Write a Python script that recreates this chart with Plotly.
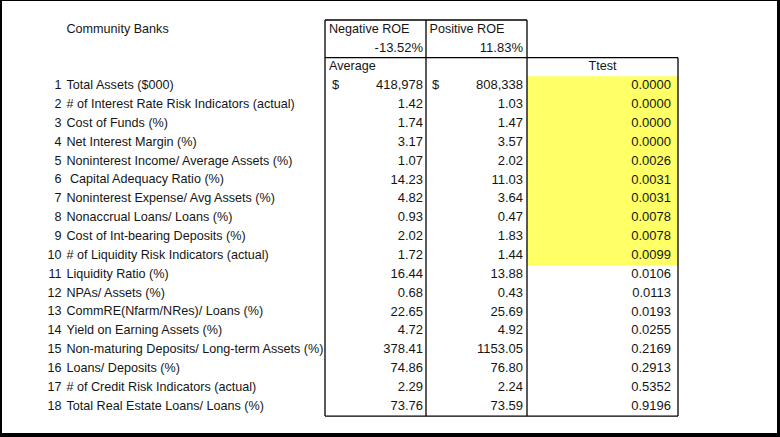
import plotly.graph_objects as go

# ---------------- data ----------------
title = "Community Banks"
group_names = ["Negative ROE", "Positive ROE"]
group_roe = [-13.52, 11.83]
sub_header = "Average"
test_header = "Ttest"

metrics = [
    "Total Assets ($000)",
    "# of Interest Rate Risk Indicators (actual)",
    "Cost of Funds (%)",
    "Net Interest Margin (%)",
    "Noninterest Income/ Average Assets (%)",
    "\u00a0Capital Adequacy Ratio (%)",
    "Noninterest Expense/ Avg Assets (%)",
    "Nonaccrual Loans/ Loans (%)",
    "Cost of Int-bearing Deposits (%)",
    "# of Liquidity Risk Indicators (actual)",
    "Liquidity Ratio (%)",
    "NPAs/ Assets (%)",
    "CommRE(Nfarm/NRes)/ Loans (%)",
    "Yield on Earning Assets (%)",
    "Non-maturing Deposits/ Long-term Assets (%)",
    "Loans/ Deposits (%)",
    "# of Credit Risk Indicators (actual)",
    "Total Real Estate Loans/ Loans (%)",
]
neg_roe = [418978, 1.42, 1.74, 3.17, 1.07, 14.23, 4.82, 0.93, 2.02, 1.72,
           16.44, 0.68, 22.65, 4.72, 378.41, 74.86, 2.29, 73.76]
pos_roe = [808338, 1.03, 1.47, 3.57, 2.02, 11.03, 3.64, 0.47, 1.83, 1.44,
           13.88, 0.43, 25.69, 4.92, 1153.05, 76.80, 2.24, 73.59]
ttest = [0.0000, 0.0000, 0.0000, 0.0000, 0.0026, 0.0031, 0.0031, 0.0078, 0.0078, 0.0099,
         0.0106, 0.0113, 0.0193, 0.0255, 0.2169, 0.2913, 0.5352, 0.9196]
signif_level = 0.01

# ---------------- layout constants ----------------
W, H = 780, 437
PITCH = 18.86          # px per row
ROW0_PX = 86.0         # pixel centre of first data row
Y_TOP = -ROW0_PX / PITCH
Y_BOT = (H - ROW0_PX) / PITCH

X_NUM = 61.5    # right edge of row numbers
X_LABEL = 66.5  # left edge of labels
X_C1L, X_C1, X_C2, X_C3 = 325, 426, 527, 678   # column borders
FONT = dict(family="Liberation Sans, Arial, sans-serif", size=12.6, color="#151515")
NFONT = dict(family="Liberation Sans, Arial, sans-serif", size=13, color="#151515")

n = len(metrics)
rows = list(range(n))

def fmt(v, i):
    return f"{v:,.0f}" if i == 0 else f"{v:.2f}"

fig = go.Figure()

def text_trace(xs, ys, texts, pos, font=FONT):
    fig.add_trace(go.Scatter(x=xs, y=ys, text=texts, mode="text", textposition=pos,
                             textfont=font, hoverinfo="skip", showlegend=False))

# header texts
text_trace([X_LABEL], [-3], [title], "middle right")
text_trace([X_C1L + 4, X_C1 + 3.5], [-3, -3], group_names, "middle right")
text_trace([X_C1 - 3, X_C2 - 4], [-2, -2], [f"{v:.2f}%" for v in group_roe], "middle left", NFONT)
text_trace([X_C1L + 4], [-1], [sub_header], "middle right")
text_trace([(X_C2 + X_C3) / 2], [-1], [test_header], "middle center")

# row numbers and labels
text_trace([X_NUM] * n, rows, [str(i + 1) for i in rows], "middle left")
text_trace([X_LABEL] * n, rows, metrics, "middle right")

# values
text_trace([X_C1 - 3] * n, rows, [fmt(v, i) for i, v in enumerate(neg_roe)], "middle left", NFONT)
text_trace([X_C2 - 4] * n, rows, [fmt(v, i) for i, v in enumerate(pos_roe)], "middle left", NFONT)
text_trace([X_C1L + 7, X_C1 + 6], [0, 0], ["$", "$"], "middle right", NFONT)
text_trace([X_C3 - 7] * n, rows, [f"{v:.4f}" for v in ttest], "middle left", NFONT)

shapes = []
# highlighted significant cells
for i, p in enumerate(ttest):
    if p < signif_level:
        shapes.append(dict(type="rect", xref="x", yref="y", x0=X_C2, x1=X_C3,
                           y0=i - 0.52, y1=i + 0.52, fillcolor="#FFFF66",
                           line=dict(width=0), layer="below"))

LINE = dict(color="#000000", width=1.3)
def seg(x0, y0, x1, y1):
    shapes.append(dict(type="line", xref="x", yref="y", x0=x0, y0=y0, x1=x1, y1=y1, line=LINE))

last = n - 0.5
seg(X_C1L, -3.5, X_C2, -3.5)
seg(X_C1L, -1.5, X_C3, -1.5)
seg(X_C1L, last, X_C3, last)
seg(X_C1L, -3.5, X_C1L, last)
seg(X_C1, -3.5, X_C1, last)
seg(X_C2, -3.5, X_C2, last)
seg(X_C3, -1.5, X_C3, last)

# outer frame (paper coords)
def frame(x0, y0, x1, y1):
    shapes.append(dict(type="rect", xref="paper", yref="paper", x0=x0 / W, x1=x1 / W,
                       y0=1 - y1 / H, y1=1 - y0 / H, fillcolor="#000000", line=dict(width=0)))
frame(0, 0, W, 1)
frame(0, 0, 2, H)
frame(W - 3, 0, W, H)
frame(0, H - 4, W, H)

fig.update_layout(
    width=W, height=H,
    margin=dict(l=0, r=0, t=0, b=0, pad=0),
    paper_bgcolor="white", plot_bgcolor="white",
    shapes=shapes,
    xaxis=dict(range=[0, W], visible=False, fixedrange=True),
    yaxis=dict(range=[Y_BOT, Y_TOP], visible=False, fixedrange=True),
    showlegend=False,
)

fig.write_html("out.html", config={"displayModeBar": False},
               post_script="document.body.style.margin='0px';document.body.style.overflow='hidden';")
